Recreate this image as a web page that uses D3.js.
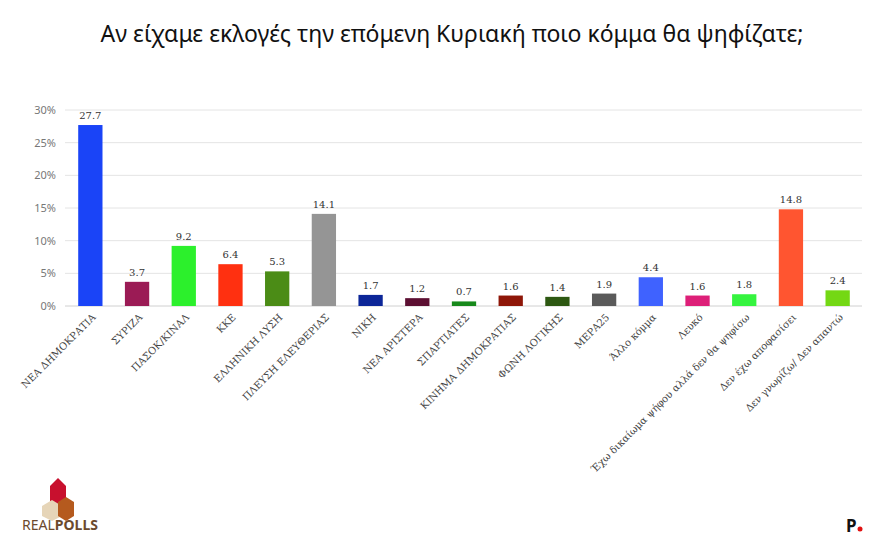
<!DOCTYPE html>
<html><head><meta charset="utf-8">
<script src="https://cdn.jsdelivr.net/npm/d3@7"></script>
<style>body{margin:0;background:#fff}</style>
</head><body>
<svg id="chart" width="877" height="547"></svg>
<script>
var categories = ["ΝΕΑ ΔΗΜΟΚΡΑΤΙΑ", "ΣΥΡΙΖΑ", "ΠΑΣΟΚ/ΚΙΝΑΛ", "ΚΚΕ", "ΕΛΛΗΝΙΚΗ ΛΥΣΗ", "ΠΛΕΥΣΗ ΕΛΕΥΘΕΡΙΑΣ",
    "ΝΙΚΗ", "ΝΕΑ ΑΡΙΣΤΕΡΑ", "ΣΠΑΡΤΙΑΤΕΣ", "ΚΙΝΗΜΑ ΔΗΜΟΚΡΑΤΙΑΣ", "ΦΩΝΗ ΛΟΓΙΚΗΣ", "ΜΕΡΑ25",
    "Άλλο κόμμα", "Λευκό", "Έχω δικαίωμα ψήφου αλλά δεν θα ψηφίσω", "Δεν έχω αποφασίσει", "Δεν γνωρίζω/ Δεν απαντώ"];
var values = [27.7, 3.7, 9.2, 6.4, 5.3, 14.1, 1.7, 1.2, 0.7, 1.6, 1.4, 1.9, 4.4, 1.6, 1.8, 14.8, 2.4];
var colors = ["#1a44f7", "#9b1b55", "#2cf02c", "#ff3010", "#4b8c16", "#959595", "#0c2698", "#5c0f32",
    "#17891b", "#8e1608", "#2d5812", "#5a5a5a", "#3f62ff", "#dd1f78", "#35f43f", "#ff5530", "#74d814"];
var yTicks = [0, 5, 10, 15, 20, 25, 30];

var svg = d3.select("#chart");
var x = d3.scaleBand().domain(categories).range([67, 861]).paddingInner(0.48).paddingOuter(0.24);
var y = d3.scaleLinear().domain([0, 30]).range([306, 110]);

svg.append("text").attr("x", 452).attr("y", 42).attr("text-anchor", "middle")
    .attr("font-family", "Noto Sans, sans-serif").attr("font-size", 23).attr("fill", "#111")
    .text("Αν είχαμε εκλογές την επόμενη Κυριακή ποιο κόμμα θα ψηφίζατε;");

/* grid + y labels */
svg.append("g").selectAll("line").data(yTicks).enter().append("line")
    .attr("x1", 65).attr("x2", 862)
    .attr("y1", function (d) { return y(d); }).attr("y2", function (d) { return y(d); })
    .attr("stroke", function (d) { return d == 0 ? "#d0d0d0" : "#e4e4e4"; }).attr("stroke-width", 1);
svg.append("g").selectAll("text").data(yTicks).enter().append("text")
    .attr("x", 56).attr("y", function (d) { return y(d) + 4; }).attr("text-anchor", "end")
    .attr("font-family", "Noto Sans, sans-serif").attr("font-size", 11).attr("fill", "#777")
    .text(function (d) { return d + "%"; });

/* bars */
svg.append("g").selectAll("rect").data(values).enter().append("rect")
    .attr("x", function (d, i) { return x(categories[i]); })
    .attr("width", x.bandwidth())
    .attr("y", function (d) { return y(d); })
    .attr("height", function (d) { return y(0) - y(d); })
    .attr("fill", function (d, i) { return colors[i]; });

svg.append("g").selectAll("text").data(values).enter().append("text")
    .attr("x", function (d, i) { return x(categories[i]) + x.bandwidth() / 2; })
    .attr("y", function (d) { return y(d) - 6; })
    .attr("text-anchor", "middle")
    .attr("font-family", "DejaVu Serif, serif").attr("font-size", 10).attr("fill", "#333")
    .text(function (d) { return d.toFixed(1); });

/* rotated category labels */
svg.append("g").selectAll("text").data(categories).enter().append("text")
    .attr("transform", function (d) {
        return "translate(" + (x(d) + x.bandwidth() / 2 + 6) + ",318) rotate(-45)";
    })
    .attr("text-anchor", "end")
    .attr("font-family", "DejaVu Serif, serif").attr("font-size", 10).attr("fill", "#444")
    .text(function (d) { return d; });

/* realpolls logo */
var logo = svg.append("g").attr("transform", "translate(58,476)");
logo.append("path").attr("d", "M-8,10 L0,2 L8,10 L8,26 L0,32 L-8,26 Z").attr("fill", "#c8102e");
logo.append("path").attr("d", "M-16,30 L-6,24 L4,30 L4,40 L-6,45 L-16,40 Z").attr("fill", "#e6d5b8");
logo.append("path").attr("d", "M0,26 L8,21 L16,26 L16,40 L8,45 L0,40 Z").attr("fill", "#b55a1e");
svg.append("text").attr("x", 22).attr("y", 530).attr("font-family", "Noto Sans, sans-serif")
    .attr("font-size", 14).attr("fill", "#6b4a2e")
    .html("REAL<tspan font-weight='bold'>POLLS</tspan>");

/* P. logo */
svg.append("text").attr("x", 846).attr("y", 532).attr("font-family", "Noto Sans, sans-serif")
    .attr("font-size", 17).attr("font-weight", "bold").attr("fill", "#111").text("P");
svg.append("circle").attr("cx", 860).attr("cy", 529).attr("r", 2.5).attr("fill", "#e01010");
</script>
</body></html>
